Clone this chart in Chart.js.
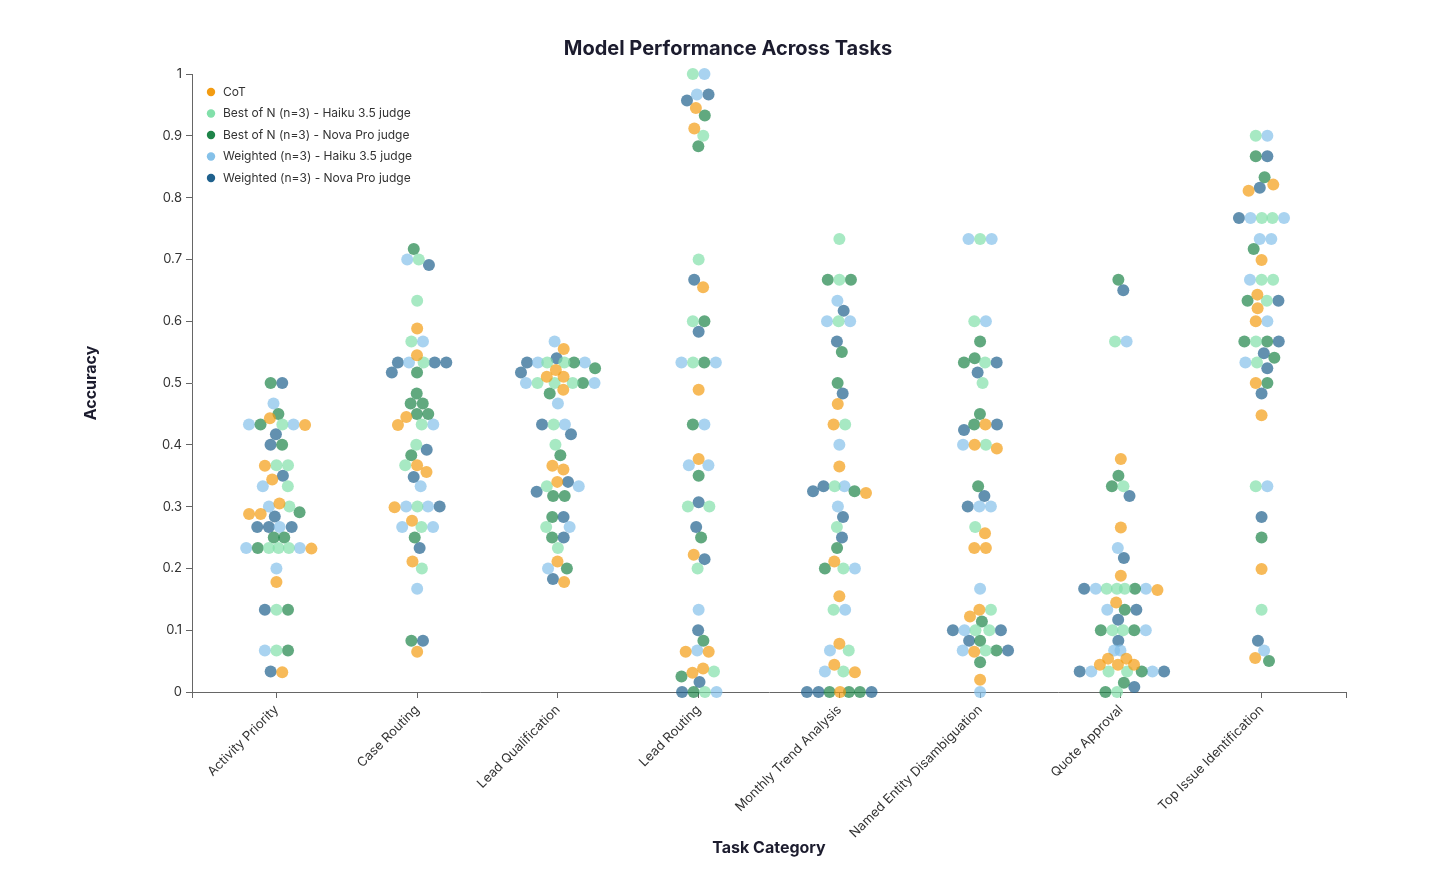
<!DOCTYPE html>
<html>
<head>
<meta charset="utf-8">
<title>Model Performance Across Tasks</title>
<script src="https://cdn.jsdelivr.net/npm/chart.js@4.4.1/dist/chart.umd.min.js"></script>
<style>
  html, body { margin: 0; padding: 0; background: #fff; }
  #wrap { width: 1456px; height: 888px; position: relative; }
</style>
</head>
<body>
<div id="wrap"><canvas id="chart"></canvas></div>
<script>
// --- DATOS ---
const categories = [
  'Activity Priority', 'Case Routing', 'Lead Qualification', 'Lead Routing',
  'Monthly Trend Analysis', 'Named Entity Disambiguation', 'Quote Approval', 'Top Issue Identification'
];

const seriesNames = [
  'CoT',
  'Best of N (n=3) - Haiku 3.5 judge',
  'Best of N (n=3) - Nova Pro judge',
  'Weighted (n=3) - Haiku 3.5 judge',
  'Weighted (n=3) - Nova Pro judge'
];

// una lista por categoría, 10 modelos cada una
const cotValues = [
  [0.443, 0.432, 0.366, 0.344, 0.305, 0.288, 0.288, 0.232, 0.178, 0.032],
  [0.588, 0.545, 0.445, 0.432, 0.367, 0.356, 0.299, 0.277, 0.211, 0.065],
  [0.555, 0.521, 0.51, 0.51, 0.489, 0.366, 0.36, 0.34, 0.211, 0.178],
  [0.945, 0.912, 0.655, 0.489, 0.377, 0.222, 0.065, 0.065, 0.038, 0.031],
  [0.466, 0.433, 0.365, 0.322, 0.211, 0.155, 0.078, 0.044, 0.032, 0],
  [0.433, 0.4, 0.394, 0.257, 0.233, 0.233, 0.133, 0.122, 0.065, 0.02],
  [0.377, 0.266, 0.188, 0.165, 0.145, 0.054, 0.054, 0.044, 0.044, 0.044],
  [0.821, 0.811, 0.699, 0.643, 0.621, 0.6, 0.5, 0.448, 0.199, 0.055]
];

const bestHaikuValues = [
  [0.433, 0.367, 0.367, 0.333, 0.3, 0.233, 0.233, 0.233, 0.133, 0.067],
  [0.7, 0.633, 0.567, 0.533, 0.433, 0.4, 0.367, 0.3, 0.267, 0.2],
  [0.533, 0.533, 0.5, 0.5, 0.5, 0.433, 0.4, 0.333, 0.267, 0.233],
  [1, 0.9, 0.7, 0.6, 0.533, 0.3, 0.3, 0.2, 0.033, 0],
  [0.733, 0.667, 0.6, 0.433, 0.333, 0.267, 0.2, 0.133, 0.067, 0.033],
  [0.733, 0.6, 0.533, 0.5, 0.4, 0.267, 0.133, 0.1, 0.1, 0.067],
  [0.567, 0.333, 0.167, 0.167, 0.167, 0.1, 0.1, 0.033, 0.033, 0],
  [0.9, 0.767, 0.767, 0.667, 0.667, 0.633, 0.567, 0.533, 0.333, 0.133]
];

const bestNovaValues = [
  [0.5, 0.45, 0.433, 0.4, 0.291, 0.25, 0.25, 0.233, 0.133, 0.067],
  [0.717, 0.517, 0.483, 0.467, 0.467, 0.45, 0.45, 0.383, 0.25, 0.083],
  [0.533, 0.524, 0.5, 0.483, 0.383, 0.317, 0.317, 0.283, 0.25, 0.2],
  [0.933, 0.883, 0.6, 0.533, 0.433, 0.35, 0.25, 0.083, 0.025, 0],
  [0.667, 0.667, 0.55, 0.5, 0.325, 0.233, 0.2, 0, 0, 0],
  [0.567, 0.54, 0.533, 0.45, 0.433, 0.333, 0.114, 0.083, 0.067, 0.048],
  [0.667, 0.35, 0.333, 0.167, 0.133, 0.1, 0.1, 0.033, 0.015, 0],
  [0.867, 0.833, 0.717, 0.633, 0.567, 0.567, 0.541, 0.5, 0.25, 0.05]
];

const weightedHaikuValues = [
  [0.467, 0.433, 0.433, 0.333, 0.3, 0.267, 0.233, 0.233, 0.2, 0.067],
  [0.7, 0.567, 0.533, 0.433, 0.333, 0.3, 0.3, 0.267, 0.267, 0.167],
  [0.567, 0.533, 0.533, 0.5, 0.5, 0.467, 0.433, 0.333, 0.267, 0.2],
  [1, 0.967, 0.533, 0.533, 0.433, 0.367, 0.367, 0.133, 0.067, 0],
  [0.633, 0.6, 0.6, 0.4, 0.333, 0.3, 0.2, 0.133, 0.067, 0.033],
  [0.733, 0.733, 0.6, 0.4, 0.3, 0.3, 0.167, 0.1, 0.067, 0],
  [0.567, 0.233, 0.167, 0.167, 0.133, 0.1, 0.067, 0.067, 0.033, 0.033],
  [0.9, 0.767, 0.767, 0.733, 0.733, 0.667, 0.6, 0.533, 0.333, 0.067]
];

const weightedNovaValues = [
  [0.5, 0.417, 0.4, 0.35, 0.284, 0.267, 0.267, 0.267, 0.133, 0.033],
  [0.691, 0.533, 0.533, 0.533, 0.517, 0.392, 0.348, 0.3, 0.233, 0.083],
  [0.54, 0.533, 0.517, 0.433, 0.417, 0.34, 0.324, 0.283, 0.25, 0.183],
  [0.967, 0.957, 0.667, 0.583, 0.307, 0.267, 0.215, 0.1, 0.016, 0],
  [0.617, 0.567, 0.483, 0.333, 0.325, 0.283, 0.25, 0, 0, 0],
  [0.533, 0.517, 0.433, 0.424, 0.317, 0.3, 0.1, 0.1, 0.083, 0.067],
  [0.65, 0.317, 0.217, 0.167, 0.133, 0.117, 0.083, 0.033, 0.033, 0.008],
  [0.867, 0.816, 0.767, 0.633, 0.567, 0.548, 0.524, 0.483, 0.283, 0.083]
];

const yTicks = [0, 0.1, 0.2, 0.3, 0.4, 0.5, 0.6, 0.7, 0.8, 0.9, 1];

const allSeries = [cotValues, bestHaikuValues, bestNovaValues, weightedHaikuValues, weightedNovaValues];
const seriesColors = ['#f39c12', '#82e0aa', '#1e8449', '#85c1e9', '#1f618d'];

// --- UTILERÍAS ---
function withAlpha(hex, a) {
  const n = parseInt(hex.slice(1), 16);
  return `rgba(${(n >> 16) & 255}, ${(n >> 8) & 255}, ${n & 255}, ${a})`;
}

const FONT = 'Inter, "Noto Sans", sans-serif';
const DOT_R = 6;
const MIN_DIST = 11.6;

// beeswarm: desplaza horizontalmente los puntos de cada categoría para que no se pisen
function layoutSwarm(chart) {
  const xs = chart.scales.x;
  const ys = chart.scales.y;
  const unit = xs.getPixelForValue(1) - xs.getPixelForValue(0);

  categories.forEach((cat, ci) => {
    const pts = [];
    chart.data.datasets.forEach((ds, si) => {
      ds.data.forEach(p => {
        if (p.cat === ci) pts.push({ p, s: si, py: ys.getPixelForValue(p.y), off: 0 });
      });
    });
    pts.sort((a, b) => a.py - b.py || a.s - b.s);

    // colocación inicial voraz
    const placed = [];
    pts.forEach(q => {
      for (let k = 0; k < 600; k++) {
        const cand = (k % 2 === 1 ? 1 : -1) * Math.ceil(k / 2);
        const ok = placed.every(o => {
          const dy = o.py - q.py;
          const dx = o.off - cand;
          return dx * dx + dy * dy >= MIN_DIST * MIN_DIST;
        });
        if (ok) { q.off = cand; break; }
      }
      placed.push(q);
    });

    // relajación: atraer al centro y separar choques
    for (let it = 0; it < 300; it++) {
      pts.forEach(q => { q.off *= 0.92; });
      for (let pass = 0; pass < 3; pass++) {
        for (let i = 0; i < pts.length; i++) {
          for (let j = i + 1; j < pts.length; j++) {
            const a = pts[i], b = pts[j];
            const dy = Math.abs(a.py - b.py);
            if (dy >= MIN_DIST) continue;
            const need = Math.sqrt(MIN_DIST * MIN_DIST - dy * dy);
            const dx = b.off - a.off;
            const adx = Math.abs(dx);
            if (adx < need) {
              const sign = adx < 1e-6 ? (j % 2 ? 1 : -1) : Math.sign(dx);
              const push = (need - adx) / 2;
              a.off -= sign * push;
              b.off += sign * push;
            }
          }
        }
      }
    }

    pts.forEach(q => { q.p.x = ci + q.off / unit; });
  });
}

// leyenda dentro del área del gráfico, arriba a la izquierda
const insideLegend = {
  id: 'insideLegend',
  afterDraw(chart) {
    const { ctx, chartArea } = chart;
    ctx.save();
    ctx.font = `12px ${FONT}`;
    ctx.textBaseline = 'middle';
    ctx.textAlign = 'left';
    seriesNames.forEach((name, i) => {
      const cy = chartArea.top + 18 + i * 21.5;
      const cx = chartArea.left + 19;
      ctx.beginPath();
      ctx.arc(cx, cy, 4.2, 0, Math.PI * 2);
      ctx.fillStyle = seriesColors[i];
      ctx.fill();
      ctx.fillStyle = '#333';
      ctx.fillText(name, cx + 12, cy);
    });
    ctx.restore();
  }
};

// el título se centra en todo el ancho del lienzo, no entre los paddings
const centerTitle = {
  id: 'centerTitle',
  afterLayout(chart) {
    const t = chart.titleBlock;
    if (t) {
      t.left = 0;
      t.right = chart.width;
      t.width = chart.width;
    }
  }
};

// --- GRÁFICO ---
const datasets = seriesNames.map((name, si) => ({
  label: name,
  data: allSeries[si].flatMap((vals, ci) => vals.map(v => ({ x: ci, y: v, cat: ci }))),
  backgroundColor: withAlpha(seriesColors[si], 0.7),
  borderWidth: 0,
  pointRadius: DOT_R,
  pointHoverRadius: DOT_R,
  clip: false
}));

const chart = new Chart(document.getElementById('chart'), {
  type: 'scatter',
  data: { datasets },
  plugins: [insideLegend, centerTitle],
  options: {
    responsive: true,
    maintainAspectRatio: false,
    animation: false,
    layout: { padding: { left: 82, right: 110, top: 0, bottom: 0 } },
    plugins: {
      title: {
        display: true,
        text: 'Model Performance Across Tasks',
        color: '#1c1c2e',
        font: { family: FONT, size: 20, weight: 'bold' },
        padding: { top: 37, bottom: 13 }
      },
      legend: { display: false },
      tooltip: { enabled: false }
    },
    scales: {
      x: {
        type: 'linear',
        min: -0.6,
        max: 7.6,
        afterFit: (s) => { s.height = 196; },
        afterBuildTicks: (s) => {
          s.ticks = [-0.6].concat(categories.map((c, i) => i), [7.6]).map(v => ({ value: v }));
        },
        grid: { drawOnChartArea: false, drawTicks: true, tickLength: 6, color: '#666' },
        border: { display: true, color: '#666' },
        ticks: {
          autoSkip: false,
          minRotation: 45,
          maxRotation: 45,
          padding: 4,
          color: '#333',
          font: { family: FONT, size: 13 },
          callback: (v) => Number.isInteger(v) ? categories[v] : ''
        },
        title: {
          display: true,
          text: 'Task Category',
          color: '#1c1c2e',
          font: { family: FONT, size: 16, weight: 'bold' },
          padding: { top: 0, bottom: 30 }
        }
      },
      y: {
        min: 0,
        max: 1,
        afterFit: (s) => { s.width = 110; },
        afterBuildTicks: (s) => { s.ticks = yTicks.map(v => ({ value: v })); },
        grid: { drawOnChartArea: false, drawTicks: true, tickLength: 6, color: '#666' },
        border: { display: true, color: '#666' },
        ticks: {
          padding: 4,
          color: '#333',
          font: { family: FONT, size: 13 },
          callback: (v) => String(v)
        },
        title: {
          display: true,
          text: 'Accuracy',
          color: '#1c1c2e',
          font: { family: FONT, size: 16, weight: 'bold' },
          padding: 0
        }
      }
    }
  }
});

layoutSwarm(chart);
chart.update('none');
</script>
</body>
</html>
